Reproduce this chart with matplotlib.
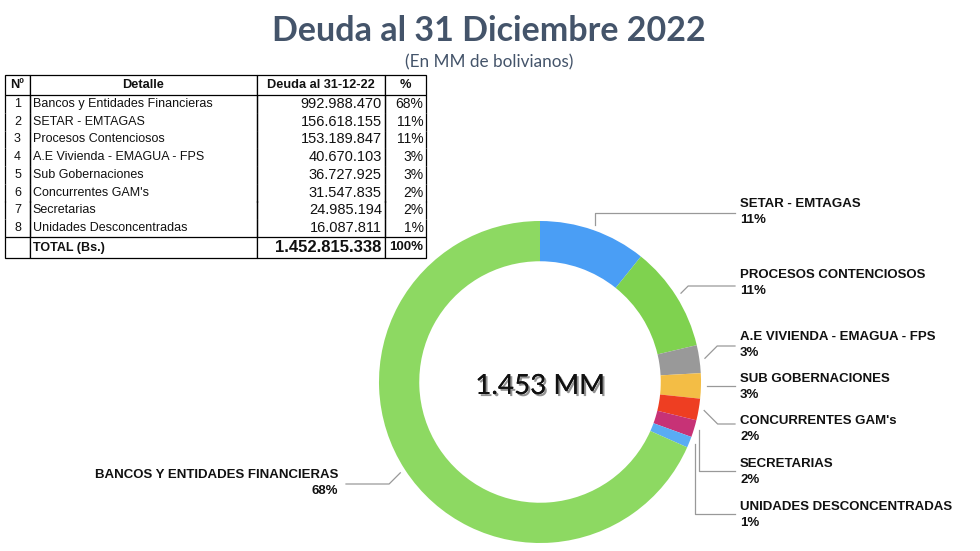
import matplotlib
matplotlib.use("Agg")
import matplotlib.pyplot as plt
import matplotlib.patheffects as pe
import numpy as np

# ---------------- data ----------------
title = "Deuda al 31 Diciembre 2022"
subtitle = "(En MM de bolivianos)"
center_label = "1.453 MM"

table_header = ["Nº", "Detalle", "Deuda al 31-12-22", "%"]
table_nums = ["1", "2", "3", "4", "5", "6", "7", "8"]
table_names = ["Bancos y Entidades Financieras", "SETAR - EMTAGAS", "Procesos Contenciosos",
               "A.E Vivienda - EMAGUA - FPS", "Sub Gobernaciones", "Concurrentes GAM's",
               "Secretarias", "Unidades Desconcentradas"]
table_values = ["992.988.470", "156.618.155", "153.189.847", "40.670.103",
                "36.727.925", "31.547.835", "24.985.194", "16.087.811"]
table_pcts = ["68%", "11%", "11%", "3%", "3%", "2%", "2%", "1%"]
total_label = "TOTAL (Bs.)"
total_value = "1.452.815.338"
total_pct = "100%"

# donut (clockwise from top)
pie_labels = ["SETAR - EMTAGAS", "PROCESOS CONTENCIOSOS", "A.E VIVIENDA - EMAGUA - FPS",
              "SUB GOBERNACIONES", "CONCURRENTES GAM's", "SECRETARIAS",
              "UNIDADES DESCONCENTRADAS", "BANCOS Y ENTIDADES FINANCIERAS"]
pie_values = [156.618155, 153.189847, 40.670103, 36.727925, 31.547835, 24.985194,
              16.087811, 992.988470]
pie_pcts = ["11%", "11%", "3%", "3%", "2%", "2%", "1%", "68%"]
pie_colors = ["#4a9ef5", "#7fd24f", "#999999", "#f3bd45", "#ee3e22", "#c73276",
              "#59acf4", "#8dd962"]

# ---------------- figure ----------------
W, H = 980, 551
fig = plt.figure(figsize=(W / 100, H / 100), dpi=100)
ax = fig.add_axes([0, 0, 1, 1])

cx, cy, R = 540, 382, 161
wedges, _ = ax.pie(pie_values, colors=pie_colors, startangle=-90, counterclock=True,
                   radius=R, center=(cx, cy),
                   wedgeprops=dict(width=R * 0.25, linewidth=0))
ax.set_xlim(0, W)
ax.set_ylim(H, 0)
ax.set_aspect("equal")
ax.axis("off")

ax.text(cx, cy + 4, center_label, ha="center", va="center", fontsize=20,
        family="Lato", color="#111111",
        path_effects=[pe.withSimplePatchShadow(offset=(1.5, -1.5), shadow_rgbFace="#666666", alpha=0.7),
                      pe.Normal()])

# label layout: (text x, name y, line y, leader style)
label_layout = [
    (740, 204, 213, "v"),
    (740, 275, 286, "d"),
    (740, 337, 346, "d"),
    (740, 379, 386, "h"),
    (740, 421, 424, "d"),
    (740, 464, 471, "v"),
    (740, 507, 514, "v"),
    (338, 475, 484, "d"),
]
line_kw = dict(color="#999999", lw=0.9)
for w, lab, pct, (tx, ty, ly, style) in zip(wedges, pie_labels, pie_pcts, label_layout):
    th = np.deg2rad((w.theta1 + w.theta2) / 2)
    sx = cx + R * 1.035 * np.cos(th)
    sy = cy + R * 1.035 * np.sin(th)
    right = np.cos(th) > 0
    if style == "v":
        ex, ey = sx, ly
    elif style == "h":
        ex, ey = sx, sy
        ly = sy
    else:
        dx = abs(ly - sy)
        ex = sx + dx if right else sx - dx
        ey = ly
    endx = tx - 5 if right else tx + 8
    ax.plot([sx, ex, endx], [sy, ey, ly], **line_kw)
    ha = "left" if right else "right"
    ax.text(tx, ty, lab, ha=ha, va="center", fontsize=9.5, fontweight="bold",
            family="Liberation Sans", color="#111111")
    ax.text(tx, ty + 16, pct, ha=ha, va="center", fontsize=9.5, fontweight="bold",
            family="Liberation Sans", color="#111111")

# titles
fig.text(489 / W, 1 - 31 / H, title, ha="center", va="center", fontsize=24.5,
         fontweight="bold", family="Lato", color="#44546a")
fig.text(489 / W, 1 - 62 / H, subtitle, ha="center", va="center", fontsize=12.3,
         family="Lato", color="#44546a")

# ---------------- table ----------------
rows = [table_header] + [[n, d, v, p] for n, d, v, p in zip(table_nums, table_names, table_values, table_pcts)] \
       + [["", total_label, total_value, total_pct]]
x0, x1, y0, y1 = 5, 426, 75, 258
tbl = ax.table(cellText=rows, bbox=[x0 / W, 1 - y1 / H, (x1 - x0) / W, (y1 - y0) / H],
               cellLoc="left")
tbl.auto_set_font_size(False)
col_w = [25, 227, 128, 41]
nrows = len(rows)
row_h = [20] + [17.75] * 8 + [21]
for (r, c), cell in tbl.get_celld().items():
    cell.set_width(col_w[c])
    cell.set_height(row_h[r])
    cell.set_linewidth(0.9)
    t = cell.get_text()
    t.set_family("Liberation Sans")
    t.set_color("#111111")
    cell.PAD = 0.03
    if r == 0:
        cell.visible_edges = "closed"
        t.set_fontweight("bold")
        t.set_fontsize(9.2)
        t.set_ha("center")
        cell._loc = "center"
    elif r == nrows - 1:
        cell.visible_edges = "closed"
        t.set_fontweight("bold")
        if c == 2:
            t.set_fontsize(12)
        elif c == 3:
            t.set_fontsize(9.5)
        else:
            t.set_fontsize(9)
    else:
        cell.visible_edges = "LR"
        if c == 2:
            t.set_fontsize(10.5)
        elif c == 3:
            t.set_fontsize(10)
        else:
            t.set_fontsize(9)
    if r > 0:
        if c == 0:
            cell._loc = "center"
        elif c == 1:
            cell._loc = "left"
            cell.PAD = 0.012
        else:
            cell._loc = "right"
            cell.PAD = 0.025 if c == 2 else 0.06
        t.set_ha(cell._loc)
fig.savefig("out.png", dpi=100)
